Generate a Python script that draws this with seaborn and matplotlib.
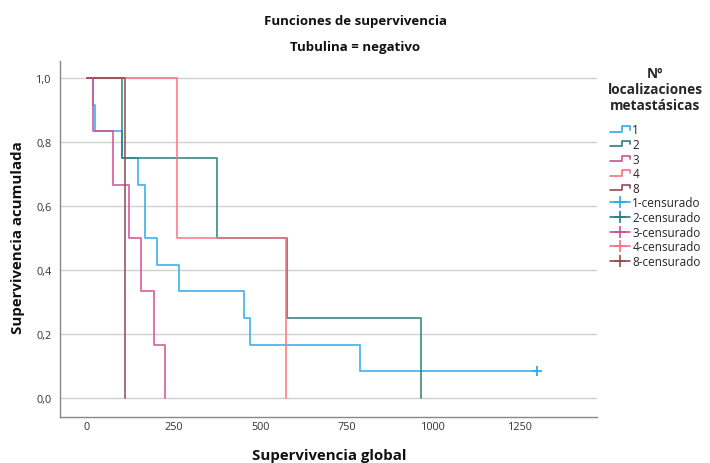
import numpy as np
import pandas as pd
import matplotlib
matplotlib.use("Agg")
import matplotlib.pyplot as plt
from matplotlib.lines import Line2D
from matplotlib.legend_handler import HandlerBase
import seaborn as sns

# ---- data ----
groups = ["1", "2", "3", "4", "8"]
times_1 = [18, 23, 100, 148, 167, 167, 203, 266, 454, 471, 788, 1300]
events_1 = [1, 1, 1, 1, 1, 1, 1, 1, 1, 1, 1, 0]
times_2 = [100, 376, 576, 964]
events_2 = [1, 1, 1, 1]
times_3 = [16, 76, 122, 155, 194, 226]
events_3 = [1, 1, 1, 1, 1, 1]
times_4 = [259, 573]
events_4 = [1, 1]
times_8 = [110]
events_8 = [1]
colors = ["#2fa9ea", "#2a7f7a", "#cf4f93", "#ff6f80", "#8e4b4f"]
y_ticks = [0.0, 0.2, 0.4, 0.6, 0.8, 1.0]
y_ticklabels = ["0,0", "0,2", "0,4", "0,6", "0,8", "1,0"]
x_ticks = [0, 250, 500, 750, 1000, 1250]

group_data = {
    "1": (times_1, events_1),
    "2": (times_2, events_2),
    "3": (times_3, events_3),
    "4": (times_4, events_4),
    "8": (times_8, events_8),
}


def km_steps(times, events):
    t = np.asarray(times, float)
    e = np.asarray(events, int)
    xs, ys = [0.0], [1.0]
    s = 1.0
    cens_x, cens_y = [], []
    for ut in np.unique(t):
        n = np.sum(t >= ut)
        d = np.sum((t == ut) & (e == 1))
        c = np.sum((t == ut) & (e == 0))
        if d > 0:
            s *= (1 - d / n)
            xs.append(ut)
            ys.append(s)
        if c > 0:
            xs.append(ut)
            ys.append(s)
            cens_x.append(ut)
            cens_y.append(s)
    return xs, ys, cens_x, cens_y


rows, cens_rows = [], []
for g in groups:
    xs, ys, cx, cy = km_steps(*group_data[g])
    for x, y in zip(xs, ys):
        rows.append({"tiempo": x, "superv": y, "grupo": g})
    for x, y in zip(cx, cy):
        cens_rows.append({"tiempo": x, "superv": y, "grupo": g})
df = pd.DataFrame(rows)
dfc = pd.DataFrame(cens_rows)

sns.set_theme(style="white")
plt.rcParams["font.family"] = ["Open Sans", "DejaVu Sans"]

fig = plt.figure(figsize=(7.10, 4.64), dpi=100)
ax = fig.add_axes([60 / 710, 1 - 418 / 464, (597 - 60) / 710, (418 - 62) / 464])

palette = dict(zip(groups, colors))
for g in groups:
    sub = df[df["grupo"] == g]
    sns.lineplot(data=sub, x="tiempo", y="superv", color=palette[g],
                 drawstyle="steps-post", estimator=None, sort=False,
                 linewidth=1.3, alpha=0.85, ax=ax, legend=False)
if len(dfc):
    for g in dfc["grupo"].unique():
        sub = dfc[dfc["grupo"] == g]
        ax.scatter(sub["tiempo"], sub["superv"], marker="+", s=60,
                   color=palette[g], linewidths=1.3, zorder=5)

ax.set_xlim(-78, 1472)
ax.set_ylim(-0.059, 1.053)
ax.set_yticks(y_ticks)
ax.set_yticklabels(y_ticklabels)
ax.set_xticks(x_ticks)
ax.set_xticklabels([str(v) for v in x_ticks])
ax.tick_params(axis="both", length=0, labelsize=7.8, colors="#333333")
ax.tick_params(axis="x", pad=3)
ax.tick_params(axis="y", pad=6)
for yt in y_ticks:
    ax.axhline(yt, color="#d0d0d0", linewidth=1.0, zorder=0)
for sp in ["top", "right"]:
    ax.spines[sp].set_visible(False)
for sp in ["left", "bottom"]:
    ax.spines[sp].set_color("#888888")
    ax.spines[sp].set_linewidth(1.0)
ax.set_xlabel("")
ax.set_ylabel("")

fig.text(355 / 710, 1 - 22 / 464, "Funciones de supervivencia", ha="center",
         va="center", fontsize=9.5, fontweight="bold", color="#111111")
fig.text(355 / 710, 1 - 48 / 464, "Tubulina = negativo", ha="center",
         va="center", fontsize=9.5, fontweight="bold", color="#111111")
fig.text(329 / 710, 1 - 456 / 464, "Supervivencia global", ha="center",
         va="center", fontsize=10.8, fontweight="bold", color="#111111")
fig.text(18 / 710, 1 - 238 / 464, "Supervivencia acumulada", ha="center",
         va="center", rotation=90, fontsize=10.8, fontweight="bold",
         color="#111111")


class StepHandler(HandlerBase):
    def create_artists(self, legend, orig_handle, xdescent, ydescent,
                       width, height, fontsize, trans):
        x0, y0 = -xdescent, -ydescent
        xs = [x0, x0 + 0.6 * width, x0 + 0.6 * width, x0 + width, x0 + width]
        ys = [y0 + 0.2 * height, y0 + 0.2 * height, y0 + 0.85 * height,
              y0 + 0.85 * height, y0 + 0.45 * height]
        ln = Line2D(xs, ys, color=orig_handle.get_color(), linewidth=1.2,
                    transform=trans)
        return [ln]


step_handles = [Line2D([], [], color=c) for c in colors]
cens_handles = [Line2D([], [], color=c, marker="+", markersize=9,
                       markeredgewidth=1.2, linewidth=1.2) for c in colors]
labels = groups + [g + "-censurado" for g in groups]
handler_map = {h: StepHandler() for h in step_handles}
leg = fig.legend(step_handles + cens_handles, labels, handler_map=handler_map,
                 loc="upper left", bbox_to_anchor=(603 / 710, 1 - 62 / 464),
                 frameon=False, fontsize=8.5, handlelength=1.7,
                 handletextpad=0.2, labelspacing=0.14, numpoints=1,
                 borderaxespad=0.0,
                 title="Nº\nlocalizaciones\nmetastásicas",
                 title_fontproperties={"weight": "bold", "size": 9.8})
leg.get_title().set_multialignment("center")
leg.get_title().set_linespacing(1.2)
leg._legend_box.sep = 8

fig.savefig("out.png", dpi=100)
